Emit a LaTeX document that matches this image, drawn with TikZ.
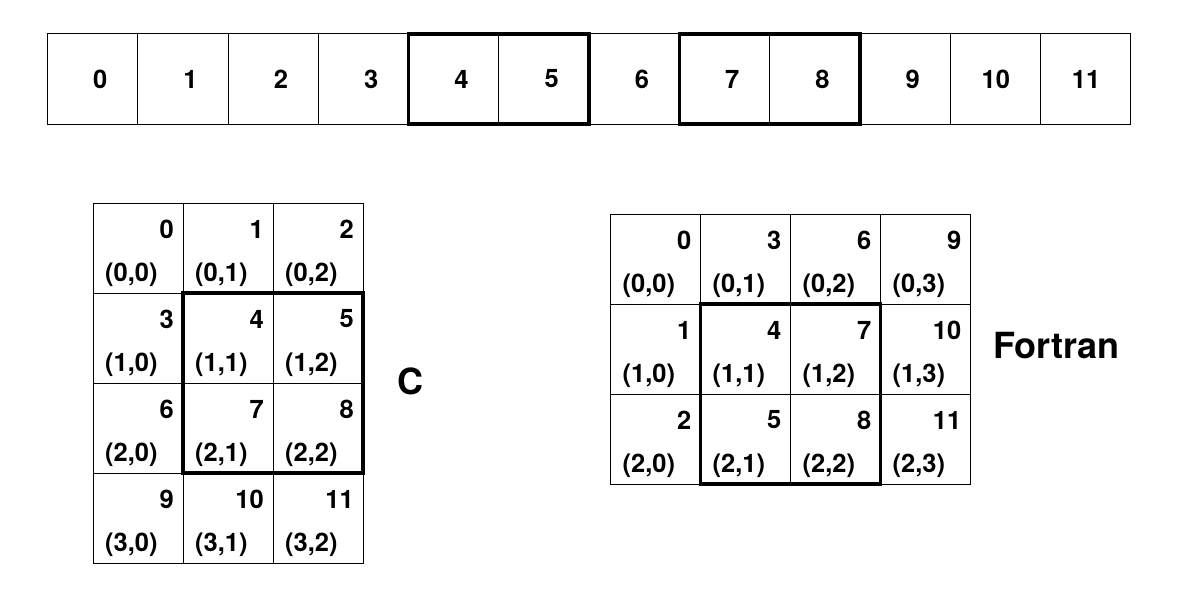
\documentclass[tikz,border=0pt]{standalone}
\usepackage{fontspec}
\setmainfont{TeX Gyre Heros}
\begin{document}
\begin{tikzpicture}[x=1pt,y=-1pt,
  topcell/.style={draw=black, line width=1pt, minimum width=90.25pt, minimum height=90pt, inner sep=0pt, outer sep=0pt},
  gridcell/.style={draw=black, line width=1pt, minimum width=90pt, minimum height=90pt, inner sep=0pt, outer sep=0pt},
  thickbox/.style={draw=black, line width=3.5pt},
  numlab/.style={inner sep=0pt, font=\fontsize{25.5}{30}\selectfont\bfseries},
  coordlab/.style={inner sep=0pt, font=\fontsize{25.5}{30}\selectfont\bfseries},
  langlab/.style={inner sep=0pt, font=\fontsize{36}{42}\selectfont\bfseries}]
\useasboundingbox (0,0) rectangle (1178,594);
% linear memory
\foreach \i in {0,...,11} {
  \node[topcell] (t\i) at ({47.5+90.25*(\i+0.5)}, 79) {};
  \node[numlab, anchor=east] (tl\i) at ([xshift=15pt]t\i.center) {\i};
}
\draw[thickbox] (t4.north west) rectangle (t5.south east);
\draw[thickbox] (t7.north west) rectangle (t8.south east);
% C (row-major)
\foreach \r in {0,...,3} {
  \foreach \c in {0,...,2} {
    \pgfmathtruncatemacro\k{\r*3+\c}
    \node[gridcell] (c\k) at ({93+90*\c+45}, {203+90*\r+45}) {};
    \node[numlab, anchor=east] (cn\k) at ([xshift=-9pt, yshift=-26pt]c\k.north east) {\k};
    \node[coordlab, anchor=west] (cc\k) at ([xshift=12pt, yshift=-72pt]c\k.north west) {(\r,\c)};
  }
}
\draw[thickbox] (c4.north west) rectangle (c8.south east);
\node[langlab] (clab) at (410,381) {C};
% Fortran (column-major)
\foreach \r in {0,...,2} {
  \foreach \c in {0,...,3} {
    \pgfmathtruncatemacro\k{\c*3+\r}
    \node[gridcell] (f\k) at ({610.5+90*\c+45}, {214+90*\r+45}) {};
    \node[numlab, anchor=east] (fn\k) at ([xshift=-9pt, yshift=-26pt]f\k.north east) {\k};
    \node[coordlab, anchor=west] (fc\k) at ([xshift=12pt, yshift=-72pt]f\k.north west) {(\r,\c)};
  }
}
\draw[thickbox] (f4.north west) rectangle (f8.south east);
\node[langlab, anchor=west] (flab) at (993,346) {Fortran};
\end{tikzpicture}
\end{document}
